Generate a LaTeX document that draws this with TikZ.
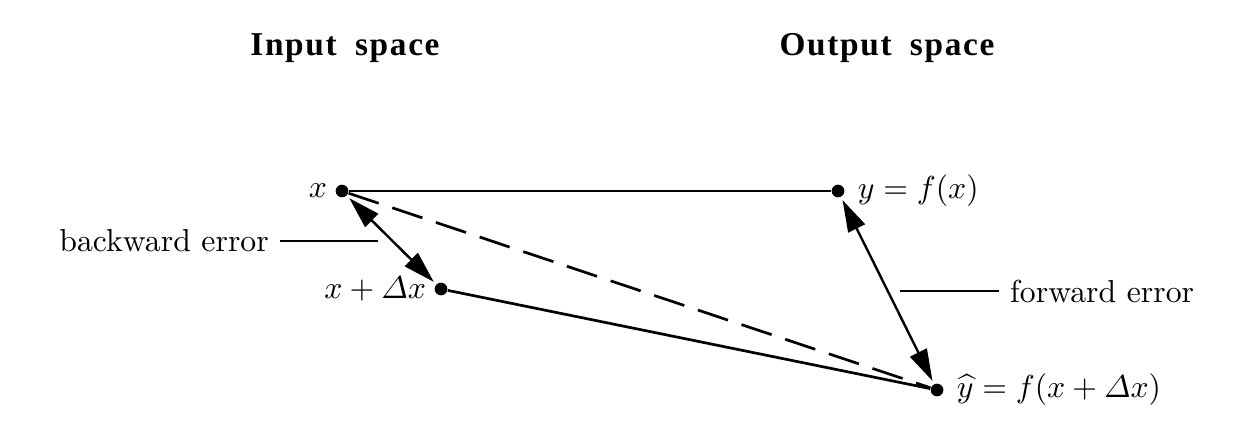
\documentclass[tikz,border=0pt]{standalone}
\usepackage{amsmath}
\usepackage{fontspec}
\newfontfamily\titlefont{Liberation Serif}[LetterSpace=5]
\usetikzlibrary{arrows.meta}

\begin{document}
\begin{tikzpicture}[x=0.315pt, y=-0.315pt,
		dot/.style={circle, fill, inner sep=0pt, minimum size=4pt},
		spacetitle/.style={font=\titlefont\fontsize{10.5pt}{12pt}\selectfont\bfseries, anchor=base},
		>={Triangle[length=10pt, width=5.8pt]}]
		\useasboundingbox (0,0) rectangle (1237,429);
		\node[spacetitle] at (345,56) (insp) {Input\hspace{0.55em}space};
		\node[spacetitle] at (887,56) (outsp) {Output\hspace{0.55em}space};
		
		\node[dot, label={[label distance=-1pt]left:$x$}] at (342,191) (x) {};
		\node[dot, label={[label distance=-1pt]left:$x+\varDelta x$}] at (441,289) (xd) {};
		\node[dot, label={[label distance=0.5pt]right:$y=f(x)$}] at (838,191) (y) {};
		\node[dot, label={[label distance=0.5pt]right:$\widehat{y}=f(x+\varDelta x)$}] at (937,390) (yh) {};
		
		\node[anchor=east] at (280,241) (bwd) {backward error};
		\coordinate (bwdend) at (378,241);
		\node[anchor=west] at (999,291) (fwd) {forward error};
		\coordinate (fwdend) at (900,291);
		
		\path[line width=0.85pt] (x) edge (y);
		\path[line width=0.85pt] (xd) edge (yh);
		\path[line width=0.85pt, dash pattern=on 10pt off 4.5pt] (x) edge (yh);
		\path[<->, line width=0.75pt, shorten <=1pt, shorten >=1pt] (x) edge (xd);
		\path[<->, line width=0.75pt, shorten <=1pt, shorten >=1pt] (y) edge (yh);
		\path[line width=0.85pt] (bwd.east) edge (bwdend);
		\path[line width=0.85pt] (fwdend) edge (fwd.west);
	\end{tikzpicture}
\end{document}
